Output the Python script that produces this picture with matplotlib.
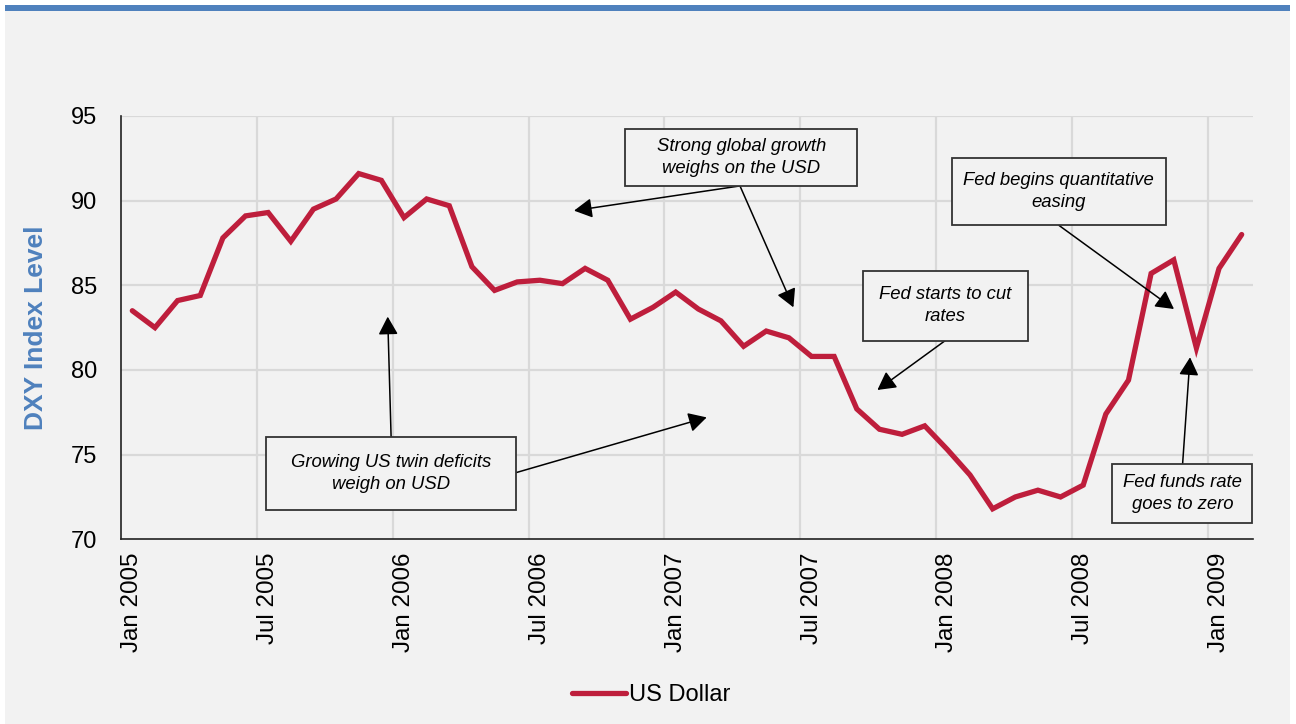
import matplotlib
matplotlib.use('Agg')
import matplotlib.pyplot as plt
from matplotlib.patches import Rectangle, FancyArrowPatch

plt.rcParams['font.family'] = ['Liberation Sans', 'DejaVu Sans']

# ── Data: DXY monthly, Jan 2005 .. Feb 2009 ───────────────────────────────────
months = [f'{m} {y}' for y in range(2005, 2010)
          for m in ['Jan', 'Feb', 'Mar', 'Apr', 'May', 'Jun',
                    'Jul', 'Aug', 'Sep', 'Oct', 'Nov', 'Dec']][:50]
dxy = [83.5, 82.5, 84.1, 84.4, 87.8, 89.1, 89.3, 87.6, 89.5, 90.1,
       91.6, 91.2, 89.0, 90.1, 89.7, 86.1, 84.7, 85.2, 85.3, 85.1,
       86.0, 85.3, 83.0, 83.7, 84.6, 83.6, 82.9, 81.4, 82.3, 81.9,
       80.8, 80.8, 77.7, 76.5, 76.2, 76.7, 75.3, 73.8, 71.8, 72.5,
       72.9, 72.5, 73.2, 77.4, 79.4, 85.7, 86.5, 81.3, 86.0, 88.0]
tick_labels = ['Jan 2005', 'Jul 2005', 'Jan 2006', 'Jul 2006', 'Jan 2007',
               'Jul 2007', 'Jan 2008', 'Jul 2008', 'Jan 2009']
y_ticks = [70, 75, 80, 85, 90, 95]

notes = [
    'Growing US twin deficits\nweigh on USD',
    'Strong global growth\nweighs on the USD',
    'Fed starts to cut\nrates',
    'Fed begins quantitative\neasing',
    'Fed funds rate\ngoes to zero',
]

# ── Style ─────────────────────────────────────────────────────────────────────
BG    = '#f2f2f2'
BLUE  = '#4f81bd'
RED   = '#be1e3c'
GRID  = '#d9d9d9'

W, H = 1296, 724
fig = plt.figure(figsize=(W / 100, H / 100), dpi=100)
fig.patch.set_facecolor('white')
fig.patches.append(Rectangle((5 / W, 0.5 / H), 1285 / W, 718 / H,
                             transform=fig.transFigure, facecolor=BG,
                             edgecolor='none', zorder=-10))
fig.patches.append(Rectangle((5 / W, 1 - 11 / H), 1285 / W, 6 / H,
                             transform=fig.transFigure, facecolor=BLUE,
                             edgecolor='none', zorder=-10))

ax = fig.add_axes([121 / W, 1 - 539.3 / H, 1132 / W, 423.3 / H])
ax.set_zorder(1)
ax.set_facecolor(BG)

x = list(range(len(dxy)))
ax.plot(x, dxy, color=RED, linewidth=3.8, solid_joinstyle='miter',
        solid_capstyle='round', label='US Dollar', zorder=3)

ax.set_xlim(-0.5, len(dxy) - 0.5)
ax.set_ylim(70, 95)
ax.set_yticks(y_ticks)
ax.set_yticklabels([str(v) for v in y_ticks], fontsize=17)
tick_pos = [months.index(t) for t in tick_labels]
ax.set_xticks(tick_pos)
ax.set_xticklabels(tick_labels, rotation=90, fontsize=17.4, va='top')
ax.tick_params(length=0)
ax.tick_params(axis='y', pad=17)
ax.tick_params(axis='x', pad=9.5)

# grid: horizontal at y ticks, vertical at half-year boundaries
for v in y_ticks[1:]:
    ax.axhline(v, color=GRID, linewidth=1.6, zorder=1)
for p in tick_pos[1:]:
    ax.axvline(p - 0.5, color=GRID, linewidth=1.6, zorder=1)

for s in ('top', 'right'):
    ax.spines[s].set_visible(False)
for s in ('left', 'bottom'):
    ax.spines[s].set_color('#222222')
    ax.spines[s].set_linewidth(1.2)

ax.set_ylabel('DXY Index Level', color=BLUE, fontsize=19, fontweight='bold')
ax.yaxis.set_label_coords(-73 / 1132, 0.5)

# ── Annotation boxes (x0, x1, y_bottom, y_top) and arrows ─────────────────────
boxes = [
    (5.89, 16.93, 71.73, 76.06),
    (21.77, 32.02, 90.87, 94.25),
    (32.26, 39.57, 81.73, 85.86),
    (36.19, 45.64, 88.54, 92.54),
    (43.29, 49.47, 70.98, 74.44),
]
arrows = [
    ((11.43, 76.06), (11.28, 83.15)),
    ((16.93, 73.93), (25.37, 77.20)),
    ((26.84, 90.87), (19.51, 89.41)),
    ((26.84, 90.87), (29.20, 83.70)),
    ((35.90, 81.73), (32.91, 78.82)),
    ((40.93, 88.54), (46.01, 83.60)),
    ((46.39, 74.44), (46.72, 80.75)),
]

for (start, end) in arrows:
    ax.add_patch(FancyArrowPatch(start, end,
                                 arrowstyle='-|>,head_length=0.55,head_width=0.3',
                                 mutation_scale=20, color='black',
                                 linewidth=1.1, shrinkA=0, shrinkB=0, zorder=4))

for (x0, x1, y0, y1), txt in zip(boxes, notes):
    ax.add_patch(Rectangle((x0, y0), x1 - x0, y1 - y0, facecolor=BG,
                           edgecolor='#333333', linewidth=1.3, zorder=5))
    ax.text((x0 + x1) / 2, (y0 + y1) / 2, txt, ha='center', va='center',
            fontsize=13.3, style='italic', linespacing=1.4, zorder=6)

fig.legend(*ax.get_legend_handles_labels(), loc='center',
           bbox_to_anchor=(651 / W, 1 - 695 / H), frameon=False,
           fontsize=17, handlelength=2.3, handletextpad=0.1)

fig.savefig('out.png', dpi=100, facecolor=fig.get_facecolor())
